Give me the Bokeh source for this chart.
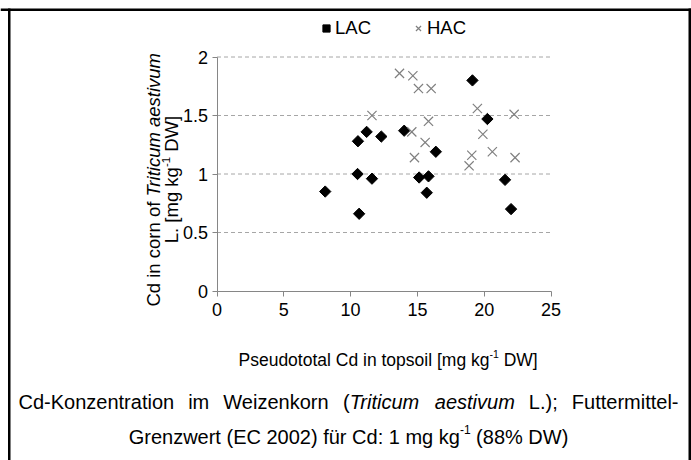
import numpy as np
from bokeh.plotting import figure
from bokeh.models import Range1d, FixedTicker, Label, Legend, LegendItem, BoxAnnotation
from bokeh.embed import file_html
from bokeh.resources import INLINE

# ---------------- data ----------------
series_names = ["LAC", "HAC"]
lac_x = [8.1, 10.55, 11.2, 10.52, 11.6, 10.64, 12.3, 14.01, 16.38, 15.13, 15.83, 15.7, 19.12, 20.24, 21.56, 22.01]
lac_y = [0.85, 1.28, 1.36, 1.00, 0.96, 0.66, 1.32, 1.37, 1.19, 0.97, 0.98, 0.84, 1.80, 1.47, 0.95, 0.70]
hac_x = [11.6, 13.66, 14.66, 15.08, 16.03, 14.58, 15.83, 15.58, 14.78, 19.49, 22.24, 19.9, 20.61, 19.07, 18.87, 22.31]
hac_y = [1.50, 1.86, 1.84, 1.73, 1.73, 1.36, 1.45, 1.27, 1.14, 1.56, 1.51, 1.34, 1.19, 1.16, 1.07, 1.14]
x_ticks = [0, 5, 10, 15, 20, 25]
y_ticks = [0, 0.5, 1, 1.5, 2]
y_tick_labels = ["0", "0.5", "1", "1.5", "2"]
grid_ticks = [0.5, 1, 1.5, 2]
x_lim = (0, 25)
y_lim = (0, 2)

FONT = "Liberation Sans"
W, H = 691, 460
# pixel positions of the axis extents on the canvas
PX0, PX1 = 216.5, 550.5     # x = 0 .. 25
PY0, PY1 = 290.5, 56.5      # y = 0 .. 2

def X(px):
    return x_lim[0] + (px - PX0) * (x_lim[1] - x_lim[0]) / (PX1 - PX0)

def Y(py):
    return y_lim[0] + (PY0 - py) * (y_lim[1] - y_lim[0]) / (PY0 - PY1)

p = figure(width=W, height=H, output_backend="svg", toolbar_location=None,
           x_range=Range1d(X(0), X(W)), y_range=Range1d(Y(H), Y(0)),
           min_border=0, min_border_left=0, min_border_right=0,
           min_border_top=0, min_border_bottom=0)
p.outline_line_color = None
p.background_fill_color = "white"
p.border_fill_color = "white"
p.xgrid.visible = False
p.ygrid.visible = False

# dashed horizontal gridlines, limited to the x extent of the axis
p.segment(x0=[x_lim[0]] * len(grid_ticks), x1=[x_lim[1]] * len(grid_ticks),
          y0=grid_ticks, y1=grid_ticks, line_color="#a6a6a6", line_dash="4 3",
          line_width=1)

for ax in (p.xaxis[0], p.yaxis[0]):
    ax.axis_line_color = "#868686"
    ax.major_tick_line_color = "#868686"
    ax.major_tick_in = 0
    ax.major_tick_out = 5
    ax.minor_tick_line_color = None
    ax.major_label_text_font = FONT
    ax.major_label_text_font_size = "18px"
    ax.major_label_text_color = "black"
p.xaxis.fixed_location = y_lim[0]
p.yaxis.fixed_location = x_lim[0]
p.xaxis.bounds = x_lim
p.yaxis.bounds = y_lim
p.xaxis.ticker = FixedTicker(ticks=x_ticks)
p.yaxis.ticker = FixedTicker(ticks=y_ticks)
p.yaxis.major_label_overrides = {t: s for t, s in zip(y_ticks, y_tick_labels)}
p.xaxis.major_label_standoff = 7
p.yaxis.major_label_standoff = 4

r_lac = p.scatter(lac_x, lac_y, marker="square", angle=np.pi / 4, size=8,
                  fill_color="black", line_color="black")
r_hac = p.scatter(hac_x, hac_y, marker="x", size=13, line_color="#808080", line_width=1.2)

legend = Legend(items=[LegendItem(label=series_names[0], renderers=[r_lac]),
                       LegendItem(label=series_names[1], renderers=[r_hac])],
                orientation="horizontal", location=(317, H - 39),
                glyph_width=18, glyph_height=18, label_standoff=0, spacing=38,
                padding=0, margin=0, border_line_color=None, background_fill_alpha=0,
                label_text_font=FONT, label_text_font_size="18.5px", label_text_color="black")
p.add_layout(legend)

# ------------- helpers for text placement -------------
AW = {' ': 278, '(': 333, ')': 333, '-': 333, '.': 278, ';': 278, ':': 278, '%': 889,
      '[': 278, ']': 278, 'A': 667, 'C': 722, 'D': 722, 'E': 667, 'F': 611, 'G': 778,
      'H': 722, 'K': 667, 'L': 556, 'P': 667, 'T': 611, 'W': 944, 'a': 556, 'b': 556,
      'c': 500, 'd': 556, 'e': 556, 'f': 278, 'g': 556, 'i': 222, 'k': 500, 'l': 222,
      'm': 833, 'n': 556, 'o': 556, 'p': 556, 'r': 333, 's': 500, 't': 278, 'u': 556,
      'v': 500, 'w': 722, 'z': 500, 'ü': 556, 'y': 500}

def tw(s, size):
    return sum(AW.get(c, 556) for c in s) * size / 1000.0

def lab(text, px, py, size, italic=False, angle=0.0):
    p.add_layout(Label(x=X(px), y=Y(py), text=text, text_font=FONT,
                       text_font_size=f"{size}px",
                       text_font_style="italic" if italic else "normal",
                       text_color="black", angle=angle,
                       text_align="left", text_baseline="alphabetic"))

# y-axis title (two rotated lines)
ys = 18.5
seg_a, seg_b = "Cd in corn of", "Triticum aestivum"
tot = tw(seg_a + " " + seg_b, ys)
start = 178.6 + tot / 2
lab(seg_a, 153, start, ys, angle=np.pi / 2)
lab(seg_b, 153, start - tw(seg_a + " ", ys), ys, italic=True, angle=np.pi / 2)

sup = 11.5
l2a, l2b = "L. [mg kg", "DW]"
tot2 = tw(l2a, ys) + tw("-1", sup) + tw(" " + l2b, ys)
start2 = 179 + tot2 / 2
lab(l2a, 171, start2, ys, angle=np.pi / 2)
lab("-1", 165, start2 - tw(l2a, ys), sup, angle=np.pi / 2)
lab(l2b, 171, start2 - tw(l2a, ys) - tw("-1", sup) - tw(" ", ys), ys, angle=np.pi / 2)

# x-axis title
xs = 17.5
xa, xb = "Pseudototal Cd in topsoil [mg kg", "DW]"
x0 = 238
lab(xa, x0, 359, xs)
lab("-1", x0 + tw(xa, xs), 353, 10.5)
lab(xb, x0 + tw(xa, xs) + tw("-1", 10.5) + tw(" ", xs), 359, xs)

# caption (first line justified, second line centred)
cs = 20
words1 = [("Cd-Konzentration", False), ("im", False), ("Weizenkorn", False),
          ("(", False), ("Triticum", True), ("aestivum", True), ("L.);", False),
          ("Futtermittel-", False)]
gap_after = [True, True, True, False, True, True, True, False]
left, right = 18, 678
natural = sum(tw(w, cs) for w, _ in words1)
ngaps = sum(gap_after[:-1])
g = (right - left - natural) / ngaps
cx = left
for (w, it), ga in zip(words1, gap_after):
    lab(w, cx, 401, cs, italic=it)
    cx += tw(w, cs) + (g if ga else 0)

c2a, c2b = "Grenzwert (EC 2002) für Cd: 1 mg kg", "(88% DW)"
csup = 12
tot3 = tw(c2a, cs) + tw("-1", csup) + tw(" " + c2b, cs)
c0 = 348 - tot3 / 2
lab(c2a, c0, 436, cs)
lab("-1", c0 + tw(c2a, cs), 429, csup)
lab(c2b, c0 + tw(c2a, cs) + tw("-1", csup) + tw(" ", cs), 436, cs)

# table-cell border lines
for l, r, t, b in [(0, 691, 8, 10.5), (7.5, 10, 8, 460), (688, 691, 8, 460)]:
    p.add_layout(BoxAnnotation(left=X(l), right=X(r), top=Y(t), bottom=Y(b),
                               fill_color="black", fill_alpha=1, line_color=None))

open("out.html", "w").write(file_html(p, INLINE))
